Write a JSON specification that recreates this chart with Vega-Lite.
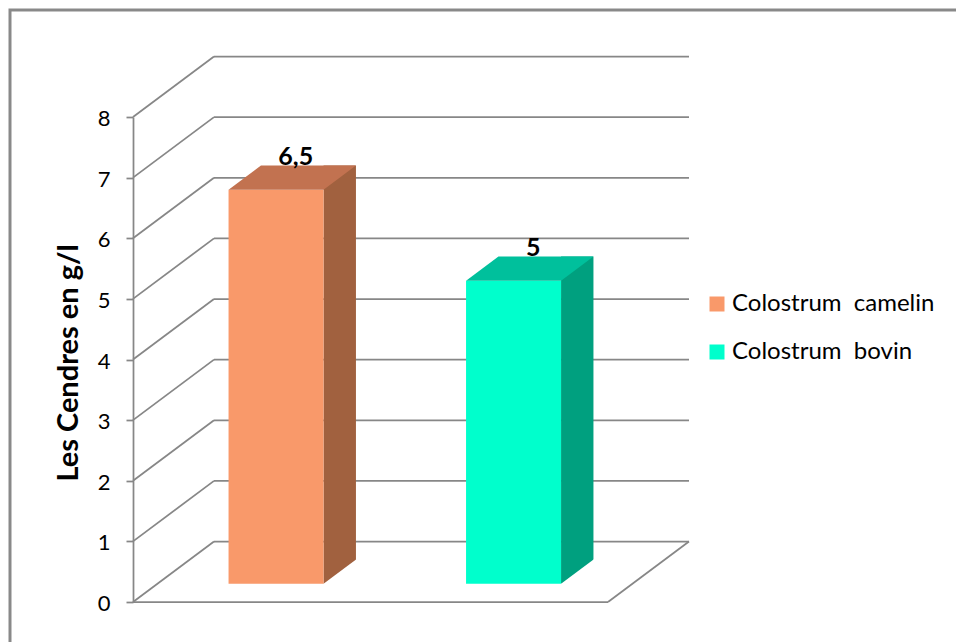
{
  "$schema": "https://vega.github.io/schema/vega-lite/v6.json",
  "width": 946,
  "height": 632,
  "autosize": {"type": "none"},
  "padding": {"left": 10, "top": 10, "right": 0, "bottom": 0},
  "background": "white",
  "config": {
    "view": {"stroke": "#898989", "strokeWidth": 3, "strokeDash": [946, 1578, 632]},
    "font": "Lato",
    "locale": {
      "number": {"decimal": ",", "thousands": "\u00a0", "grouping": [3], "currency": ["", "\u00a0€"]}
    }
  },
  "datasets": {
    "cendres": [
      {"serie": "Colostrum\u00a0 camelin", "valeur": 6.5},
      {"serie": "Colostrum\u00a0 bovin", "valeur": 5}
    ],
    "graduations": [
      {"v": 0}, {"v": 1}, {"v": 2}, {"v": 3}, {"v": 4},
      {"v": 5}, {"v": 6}, {"v": 7}, {"v": 8}
    ]
  },
  "resolve": {"scale": {"color": "independent"}},
  "layer": [
    {
      "description": "back wall gridlines",
      "data": {"name": "graduations"},
      "mark": {"type": "rule", "color": "#878787", "strokeWidth": 1.75, "xOffset": 81, "x2Offset": 81, "yOffset": -60.5, "y2Offset": -60.5},
      "encoding": {
        "x": {
          "datum": "Colostrum\u00a0 camelin", "type": "nominal", "bandPosition": -0.75,
          "scale": {"type": "band", "domain": ["Colostrum\u00a0 camelin", "Colostrum\u00a0 bovin"], "range": [123, 598], "paddingInner": 0.6, "paddingOuter": 0.3},
          "axis": null
        },
        "x2": {"datum": "Colostrum\u00a0 bovin", "bandPosition": 1.75},
        "y": {
          "field": "v", "type": "quantitative",
          "scale": {"domain": [0, 8], "range": [592, 107], "nice": false, "zero": true},
          "axis": {
            "offset": -123,
            "values": [0, 1, 2, 3, 4, 5, 6, 7, 8],
            "format": "d",
            "grid": false,
            "domainColor": "#878787", "domainWidth": 1.75,
            "tickColor": "#878787", "tickWidth": 1.75, "tickSize": 7,
            "labelFont": "Lato", "labelFontSize": 22, "labelColor": "black", "labelPadding": 16, "labelOffset": 1.5,
            "labelFlush": false, "labelOverlap": false,
            "title": "Les Cendres en g/l",
            "titleFont": "Lato", "titleFontSize": 29, "titleFontWeight": "bold", "titleColor": "black",
            "titleAngle": -90, "titleAlign": "center", "titleBaseline": "alphabetic",
            "titleX": -55.5, "titleY": 352.4
          }
        }
      }
    },
    {
      "description": "left wall gridlines",
      "data": {"name": "graduations"},
      "mark": {"type": "rule", "color": "#878787", "strokeWidth": 1.75, "x2Offset": 81, "y2Offset": -60.5},
      "encoding": {
        "x": {"datum": "Colostrum\u00a0 camelin", "type": "nominal", "bandPosition": -0.75},
        "x2": {"datum": "Colostrum\u00a0 camelin", "bandPosition": -0.75},
        "y": {"field": "v", "type": "quantitative"},
        "y2": {"field": "v"}
      }
    },
    {
      "description": "floor front edge",
      "data": {"name": "graduations"},
      "transform": [{"filter": "datum.v == 0"}],
      "mark": {"type": "rule", "color": "#878787", "strokeWidth": 1.75},
      "encoding": {
        "x": {"datum": "Colostrum\u00a0 camelin", "type": "nominal", "bandPosition": -0.75},
        "x2": {"datum": "Colostrum\u00a0 bovin", "bandPosition": 1.75},
        "y": {"field": "v", "type": "quantitative"}
      }
    },
    {
      "description": "floor right edge",
      "data": {"name": "graduations"},
      "transform": [{"filter": "datum.v == 0"}],
      "mark": {"type": "rule", "color": "#878787", "strokeWidth": 1.75, "x2Offset": 81, "y2Offset": -60.5},
      "encoding": {
        "x": {"datum": "Colostrum\u00a0 bovin", "type": "nominal", "bandPosition": 1.75},
        "x2": {"datum": "Colostrum\u00a0 bovin", "bandPosition": 1.75},
        "y": {"field": "v", "type": "quantitative"},
        "y2": {"field": "v"}
      }
    },
    {
      "description": "bar side faces",
      "data": {"name": "cendres"},
      "mark": {"type": "bar", "width": 32.4, "xOffset": 88, "yOffset": -42.35, "y2Offset": -18.15},
      "encoding": {
        "x": {"field": "serie", "type": "nominal"},
        "y": {"field": "valeur", "type": "quantitative", "stack": null},
        "y2": {"datum": 0},
        "color": {
          "field": "serie", "type": "nominal",
          "scale": {"domain": ["Colostrum\u00a0 camelin", "Colostrum\u00a0 bovin"], "range": ["#A1613F", "#00A07F"]},
          "legend": null
        }
      }
    },
    {
      "description": "trim under the side faces",
      "data": {"name": "cendres"},
      "mark": {"type": "point", "shape": "M46.16,1L81,1L81,-25.02Z", "size": 4, "filled": true, "fill": "white", "opacity": 1, "strokeWidth": 0, "xOffset": 24.3, "yOffset": -18.15},
      "encoding": {
        "x": {"field": "serie", "type": "nominal"},
        "y": {"datum": 0, "type": "quantitative"}
      }
    },
    {
      "description": "bar front faces",
      "data": {"name": "cendres"},
      "mark": {"type": "bar", "xOffset": 24.3, "x2Offset": 24.3, "yOffset": -18.15, "y2Offset": -18.15},
      "encoding": {
        "x": {"field": "serie", "type": "nominal"},
        "y": {"field": "valeur", "type": "quantitative", "stack": null},
        "y2": {"datum": 0},
        "color": {
          "field": "serie", "type": "nominal",
          "scale": {"domain": ["Colostrum\u00a0 camelin", "Colostrum\u00a0 bovin"], "range": ["#F9996A", "#00FFCC"]},
          "legend": {
            "orient": "none", "legendX": 695, "legendY": 282, "title": null,
            "symbolType": "square", "symbolSize": 225, "symbolStrokeWidth": 0,
            "labelFont": "Lato", "labelFontSize": 24, "labelColor": "black",
            "labelOffset": 3, "rowPadding": 24, "padding": 0, "labelLimit": 400
          }
        }
      }
    },
    {
      "description": "bar top faces",
      "data": {"name": "cendres"},
      "mark": {"type": "point", "shape": "M-47.5,0L47.5,0L79.9,-24.2L-15.1,-24.2Z", "size": 4, "filled": true, "opacity": 1, "strokeWidth": 0, "xOffset": 24.3, "yOffset": -18.15},
      "encoding": {
        "x": {"field": "serie", "type": "nominal"},
        "y": {"field": "valeur", "type": "quantitative"},
        "color": {
          "field": "serie", "type": "nominal",
          "scale": {"domain": ["Colostrum\u00a0 camelin", "Colostrum\u00a0 bovin"], "range": ["#C27250", "#00C09C"]},
          "legend": null
        }
      }
    },
    {
      "description": "value labels",
      "data": {"name": "cendres"},
      "mark": {"type": "text", "font": "Lato", "fontSize": 25, "fontWeight": "bold", "color": "black", "align": "center", "baseline": "alphabetic", "dx": 44, "dy": -42.5},
      "encoding": {
        "x": {"field": "serie", "type": "nominal"},
        "y": {"field": "valeur", "type": "quantitative"},
        "text": {"field": "valeur", "type": "quantitative", "format": ".1~f"}
      }
    }
  ]
}
